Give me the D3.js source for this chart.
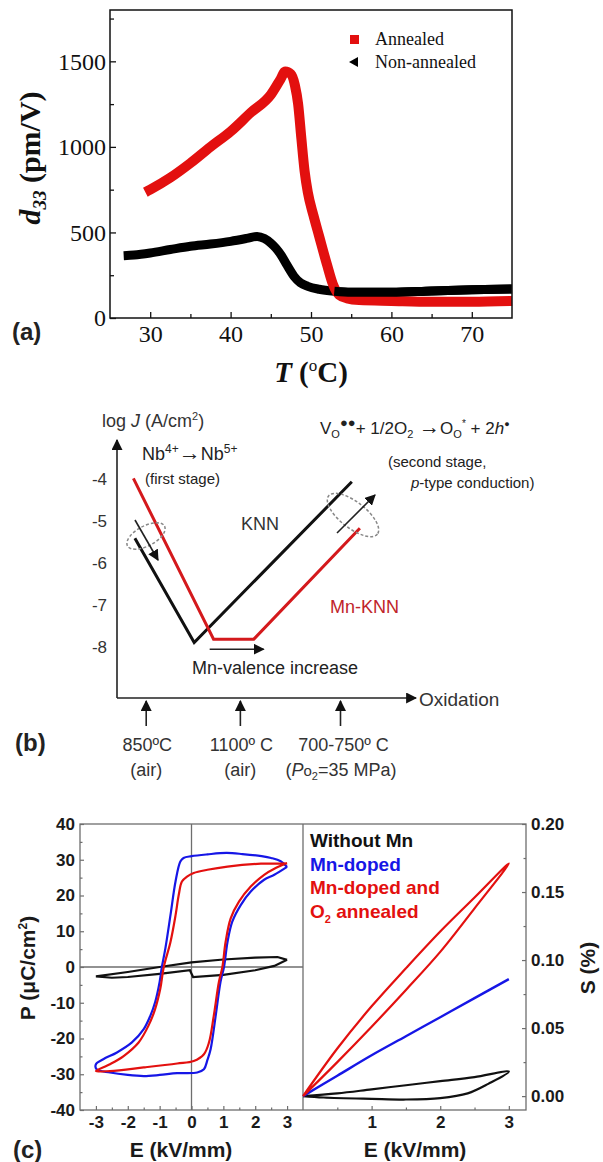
<!DOCTYPE html>
<html>
<head>
<meta charset="utf-8">
<script src="https://cdn.jsdelivr.net/npm/d3@7"></script>
<style>
  body { margin: 0; background: #fff; }
  svg { display: block; }
</style>
</head>
<body>
<div id="chart"></div>
<script>
// ---------- panel (a): d33 vs T ----------
const tAnnealed = [29.4, 30, 32.5, 35, 37.5, 40, 42.5, 45, 46.2, 46.8, 47.5, 48, 48.4, 48.8, 49.2, 49.6, 50.3, 51, 52, 52.7, 53.5, 54.5, 56, 60, 65, 70, 75];
const d33Annealed = [735, 750, 820, 905, 1000, 1090, 1200, 1305, 1395, 1440, 1425, 1360, 1250, 1050, 860, 735, 600, 480, 310, 200, 135, 115, 105, 100, 95, 95, 100];
const tNonAnnealed = [26.7, 28, 30, 32.5, 35, 37.5, 40, 42, 43.3, 44.2, 45, 45.6, 46.25, 47, 47.9, 48.7, 49.6, 51, 52.9, 55, 60, 65, 70, 75];
const d33NonAnnealed = [364, 368, 380, 400, 419, 432, 448, 465, 477, 465, 438, 410, 370, 310, 243, 205, 185, 168, 156, 150, 150, 158, 165, 170];
const aTicksX = [30, 40, 50, 60, 70];
const aMinorX = [35, 45, 55, 65];
const aTicksY = [0, 500, 1000, 1500];
const aMinorY = [250, 750, 1250, 1750];

// ---------- panel (b): schematic log J vs oxidation ----------
const knnOx = [6.0, 25.9, 78.8];
const knnLogJ = [-5.41, -7.90, -4.06];
const mnKnnOx = [5.5, 32.4, 45.9, 81.5];
const mnKnnLogJ = [-3.98, -7.82, -7.82, -5.17];
const bTicksY = [-4, -5, -6, -7, -8];
const stageOx = [9.8, 41.4, 75];
const stageTemp = ['850ºC', '1100º C', '700-750º C'];

// ---------- panel (c): P-E and S-E loops ----------
const peBlue = [[3,28],[2.8,29.6],[2.5,30.5],[2.2,31],[1.6,31.6],[1.1,31.9],[0.5,31.5],[0,31],[-0.25,30.5],[-0.35,29.5],[-0.5,24],[-0.66,14.5],[-0.82,5.2],[-0.93,0],[-1.0,-4.2],[-1.14,-9.8],[-1.29,-13.6],[-1.5,-17.4],[-1.87,-21.1],[-2.34,-23.9],[-2.77,-25.8],[-3,-27.2],
  [-2.98,-28.6],[-2.56,-29.5],[-2,-30.2],[-1.5,-30.5],[-1,-30.2],[-0.45,-29.7],[0.18,-29.5],[0.39,-28.6],[0.5,-26],[0.6,-23],[0.76,-13.6],[0.91,-4.2],[1.02,0],[1.13,7],[1.28,12.7],[1.55,17.4],[1.86,21.1],[2.28,24.4],[2.6,25.8],[3,28]];
const peRed = [[3,29],[2.5,28.9],[2.18,28.9],[1.13,28.1],[0.5,27.2],[0.07,26.3],[-0.14,25.3],[-0.3,23.9],[-0.4,20.2],[-0.5,14.5],[-0.66,7],[-0.87,0],[-0.98,-6.1],[-1.14,-11.7],[-1.35,-16.4],[-1.66,-21.1],[-2.13,-24.9],[-2.56,-27.2],[-3,-29.1],
  [-2.56,-29.1],[-1.5,-28.1],[-0.45,-27],[0.07,-26.3],[0.39,-24.4],[0.55,-21.1],[0.7,-13.6],[0.86,-4.2],[0.97,0],[1.07,7],[1.23,13.6],[1.49,18.3],[1.86,22.5],[2.28,25.8],[2.6,27.5],[3,29]];
const peBlack = [[3,2],[2.7,2.8],[2,2.6],[1,2.1],[0,1.3],[-1,0],[-2,-1.4],[-3,-2.6],
  [-2.5,-3],[-2,-2.8],[-1,-1.9],[-0.05,-0.9],[0.05,-2.8],[1,-2.2],[2,-0.9],[2.6,0.3],[3,2]];
const seRed = [[0,0],[0.5,0.025],[1,0.051],[1.5,0.078],[2,0.106],[2.5,0.138],[3,0.171],
  [2.5,0.146],[2,0.121],[1.5,0.094],[1,0.066],[0.5,0.035],[0,0]];
const seBlue = [[0,0],[0.5,0.015],[1,0.030],[1.5,0.044],[2,0.058],[2.5,0.072],[3,0.086]];
const seBlack = [[0,0],[0.3,-0.001],[1,-0.002],[1.5,-0.0025],[2,-0.0015],[2.4,0.002],[2.7,0.009],[3,0.018],
  [2.5,0.014],[2,0.011],[1.5,0.008],[1,0.005],[0.5,0.002],[0,0]];
const cTicksP = [-40, -30, -20, -10, 0, 10, 20, 30, 40];
const cTicksE = [-3, -2, -1, 0, 1, 2, 3];
const cTicksE2 = [1, 2, 3];
const cTicksS = [0, 0.05, 0.10, 0.15, 0.20];
const legendC = ['Without Mn', 'Mn-doped', 'Mn-doped and'];

const width = 603;
const height = 1162;
const serif = '"Liberation Serif", "Times New Roman", serif';
const sans = '"Liberation Sans", Arial, sans-serif';
const RED = '#e3100f';
const BLUE = '#1616e6';
const plain = (d) => String(d);

const svg = d3.select('#chart')
  .append('svg')
  .attr('width', width)
  .attr('height', height)
  .attr('viewBox', `0 0 ${width} ${height}`);

svg.append('rect').attr('width', width).attr('height', height).attr('fill', '#fff');

// arrow marker
const defs = svg.append('defs');
defs.append('marker')
  .attr('id', 'arr')
  .attr('viewBox', '0 0 10 10')
  .attr('refX', 9).attr('refY', 5)
  .attr('markerWidth', 11).attr('markerHeight', 11)
  .attr('markerUnits', 'userSpaceOnUse')
  .attr('orient', 'auto')
  .append('path').attr('d', 'M0,0 L10,5 L0,10 Z').attr('fill', '#111');

// ================= PANEL (a) =================
function drawPanelA() {
  const box = { left: 110, right: 512, top: 10, bottom: 318 };
  const x = d3.scaleLinear().domain([25, 75]).range([box.left, box.right]);
  const y = d3.scaleLinear().domain([0, 1800]).range([box.bottom, box.top]);
  const g = svg.append('g').attr('class', 'panel-a');

  const line = d3.line().x((d) => x(d[0])).y((d) => y(d[1])).curve(d3.curveMonotoneX);
  const red = tAnnealed.map((t, i) => [t, d33Annealed[i]]);
  const black = tNonAnnealed.map((t, i) => [t, d33NonAnnealed[i]]);

  g.append('path').attr('d', line(black))
    .attr('fill', 'none').attr('stroke', '#000').attr('stroke-width', 9)
    .attr('stroke-linejoin', 'round');
  g.append('path').attr('d', line(red))
    .attr('fill', 'none').attr('stroke', RED).attr('stroke-width', 10)
    .attr('stroke-linejoin', 'round');
  // black sits on top of red on the tail
  g.append('path').attr('d', line(black.filter((d) => d[0] >= 52)))
    .attr('fill', 'none').attr('stroke', '#000').attr('stroke-width', 9);

  // frame
  g.append('rect')
    .attr('x', box.left).attr('y', box.top)
    .attr('width', box.right - box.left).attr('height', box.bottom - box.top)
    .attr('fill', 'none').attr('stroke', '#111').attr('stroke-width', 1.5);

  g.append('g').attr('transform', `translate(0,${box.bottom})`)
    .call(d3.axisBottom(x).tickValues(aTicksX).tickSize(-6).tickPadding(7).tickFormat(plain));
  g.append('g').attr('transform', `translate(0,${box.bottom})`)
    .call(d3.axisBottom(x).tickValues(aMinorX).tickSize(-4).tickFormat(''));
  g.append('g').attr('transform', `translate(${box.left},0)`)
    .call(d3.axisLeft(y).tickValues(aTicksY).tickSize(-6).tickPadding(4).tickFormat(plain));
  g.append('g').attr('transform', `translate(${box.left},0)`)
    .call(d3.axisLeft(y).tickValues(aMinorY).tickSize(-4).tickFormat(''));
  g.selectAll('.domain').remove();
  g.selectAll('.tick line').attr('stroke', '#111').attr('stroke-width', 1.3);
  g.selectAll('.tick text').attr('font-family', serif).attr('font-size', 24).attr('fill', '#111');

  // legend
  g.append('rect').attr('x', 350).attr('y', 35).attr('width', 9).attr('height', 9).attr('fill', RED);
  g.append('text').attr('x', 375).attr('y', 45).text('Annealed')
    .attr('font-family', serif).attr('font-size', 18).attr('fill', '#111');
  g.append('path').attr('d', 'M349,62 L358,57 L358,67 Z').attr('fill', '#000');
  g.append('text').attr('x', 375).attr('y', 68).text('Non-annealed')
    .attr('font-family', serif).attr('font-size', 18).attr('fill', '#111');

  // axis titles
  const yt = g.append('text')
    .attr('transform', 'translate(40,158) rotate(-90)')
    .attr('text-anchor', 'middle')
    .attr('font-family', serif).attr('font-size', 30).attr('font-weight', 'bold').attr('fill', '#111');
  yt.append('tspan').attr('font-style', 'italic').text('d');
  yt.append('tspan').attr('font-style', 'italic').attr('font-size', 19).attr('dy', 6).text('33');
  yt.append('tspan').attr('dy', -6).text(' (pm/V)');

  const xt = g.append('text')
    .attr('x', x(50)).attr('y', 382)
    .attr('text-anchor', 'middle')
    .attr('font-family', serif).attr('font-size', 29).attr('font-weight', 'bold').attr('fill', '#111');
  xt.append('tspan').attr('font-style', 'italic').text('T');
  xt.append('tspan').text(' (');
  xt.append('tspan').attr('font-size', 17).attr('dy', -11).attr('font-weight', 'normal').text('o');
  xt.append('tspan').attr('dy', 11).text('C)');

  g.append('text').attr('x', 12).attr('y', 340).text('(a)')
    .attr('font-family', sans).attr('font-size', 24).attr('font-weight', 'bold').attr('fill', '#222');
}

// ================= PANEL (b) =================
function drawPanelB() {
  const g = svg.append('g').attr('class', 'panel-b');
  const x = d3.scaleLinear().domain([0, 100]).range([117, 415]);
  const y = d3.scaleLinear().domain([-9.25, -3]).range([699, 437.4]);
  const ink = '#222';
  const line = d3.line().x((d) => x(d[0])).y((d) => y(d[1]));

  // axes with arrows
  g.append('line').attr('x1', x(0)).attr('y1', 698).attr('x2', x(0)).attr('y2', 440)
    .attr('stroke', ink).attr('stroke-width', 1.6).attr('marker-end', 'url(#arr)');
  g.append('line').attr('x1', x(0)).attr('y1', 698).attr('x2', 416).attr('y2', 698)
    .attr('stroke', ink).attr('stroke-width', 1.6).attr('marker-end', 'url(#arr)');

  g.selectAll('.ytl').data(bTicksY).join('text')
    .attr('x', 107).attr('y', (d) => y(d) + 6)
    .attr('text-anchor', 'end')
    .attr('font-family', sans).attr('font-size', 17).attr('fill', '#333')
    .text((d) => String(d));

  // curves
  g.append('path').attr('d', line(knnOx.map((v, i) => [v, knnLogJ[i]])))
    .attr('fill', 'none').attr('stroke', '#111').attr('stroke-width', 3);
  g.append('path').attr('d', line(mnKnnOx.map((v, i) => [v, mnKnnLogJ[i]])))
    .attr('fill', 'none').attr('stroke', '#d4191c').attr('stroke-width', 3);

  // dashed ellipses with arrows
  g.append('ellipse').attr('cx', 146).attr('cy', 536).attr('rx', 21).attr('ry', 10)
    .attr('transform', 'rotate(-28 146 536)')
    .attr('fill', 'none').attr('stroke', '#888').attr('stroke-width', 1.5).attr('stroke-dasharray', '3,2');
  g.append('line').attr('x1', 135).attr('y1', 520).attr('x2', 158).attr('y2', 560)
    .attr('stroke', '#222').attr('stroke-width', 1.6).attr('marker-end', 'url(#arr)');
  g.append('ellipse').attr('cx', 353).attr('cy', 515).attr('rx', 31).attr('ry', 13)
    .attr('transform', 'rotate(38 353 515)')
    .attr('fill', 'none').attr('stroke', '#888').attr('stroke-width', 1.5).attr('stroke-dasharray', '3,2');
  g.append('line').attr('x1', 337).attr('y1', 533).attr('x2', 375).attr('y2', 495)
    .attr('stroke', '#222').attr('stroke-width', 1.6).attr('marker-end', 'url(#arr)');

  // Mn valence arrow
  g.append('line').attr('x1', x(31.1)).attr('y1', y(-8.06)).attr('x2', x(49.2)).attr('y2', y(-8.06))
    .attr('stroke', '#222').attr('stroke-width', 1.6).attr('marker-end', 'url(#arr)');
  g.append('text').attr('x', 275).attr('y', 674).attr('text-anchor', 'middle')
    .attr('font-family', sans).attr('font-size', 18).attr('fill', ink).text('Mn-valence increase');

  // stage arrows under the axis
  stageOx.forEach((v) => {
    g.append('line').attr('x1', x(v)).attr('y1', 726).attr('x2', x(v)).attr('y2', 701)
      .attr('stroke', '#222').attr('stroke-width', 1.6).attr('marker-end', 'url(#arr)');
  });
  g.selectAll('.stage').data(stageTemp).join('text')
    .attr('x', (d, i) => x(stageOx[i]) + (i === 2 ? 3 : 1)).attr('y', 751)
    .attr('text-anchor', 'middle')
    .attr('font-family', sans).attr('font-size', 18).attr('fill', '#333')
    .text((d) => d);
  g.append('text').attr('x', x(stageOx[0])).attr('y', 776).attr('text-anchor', 'middle')
    .attr('font-family', sans).attr('font-size', 18).attr('fill', '#333').text('(air)');
  g.append('text').attr('x', x(stageOx[1])).attr('y', 776).attr('text-anchor', 'middle')
    .attr('font-family', sans).attr('font-size', 18).attr('fill', '#333').text('(air)');
  const po = g.append('text').attr('x', 341).attr('y', 776).attr('text-anchor', 'middle')
    .attr('font-family', sans).attr('font-size', 18).attr('fill', '#333');
  po.append('tspan').text('(');
  po.append('tspan').attr('font-style', 'italic').text('P');
  po.append('tspan').attr('font-size', 15).text('o');
  po.append('tspan').attr('font-size', 11).attr('dy', 4).text('2');
  po.append('tspan').attr('dy', -4).text('=35 MPa)');

  g.append('text').attr('x', 419).attr('y', 706)
    .attr('font-family', sans).attr('font-size', 19).attr('fill', '#333').text('Oxidation');

  // y title
  const yl = g.append('text').attr('x', 102).attr('y', 427)
    .attr('font-family', sans).attr('font-size', 18).attr('fill', '#333');
  yl.append('tspan').text('log ');
  yl.append('tspan').attr('font-style', 'italic').text('J');
  yl.append('tspan').text(' (A/cm');
  yl.append('tspan').attr('font-size', 11).attr('dy', -7).text('2');
  yl.append('tspan').attr('dy', 7).text(')');

  // annotations
  const nb = g.append('text').attr('x', 142).attr('y', 460)
    .attr('font-family', sans).attr('font-size', 18).attr('fill', ink);
  nb.append('tspan').text('Nb');
  nb.append('tspan').attr('font-size', 12).attr('dy', -7).text('4+');
  nb.append('tspan').attr('dy', 7).attr('font-size', 22).attr('font-weight', 'bold').text('→');
  nb.append('tspan').text('Nb');
  nb.append('tspan').attr('font-size', 12).attr('dy', -7).text('5+');
  g.append('text').attr('x', 145).attr('y', 484)
    .attr('font-family', sans).attr('font-size', 15).attr('fill', ink).text('(first stage)');

  g.append('text').attr('x', 241).attr('y', 530)
    .attr('font-family', sans).attr('font-size', 18).attr('fill', '#333').text('KNN');
  g.append('text').attr('x', 330).attr('y', 613)
    .attr('font-family', sans).attr('font-size', 18).attr('fill', '#c0242a').text('Mn-KNN');

  const eq = g.append('text').attr('x', 320).attr('y', 434)
    .attr('font-family', sans).attr('font-size', 17).attr('fill', ink);
  eq.append('tspan').text('V');
  eq.append('tspan').attr('font-size', 11).attr('dy', 4).text('O');
  eq.append('tspan').attr('font-size', 13).attr('dy', -11).text('●●');
  eq.append('tspan').attr('dy', 7).text('+ 1/2O');
  eq.append('tspan').attr('font-size', 11).attr('dy', 4).text('2');
  eq.append('tspan').attr('dy', -4).attr('font-size', 21).attr('font-weight', 'bold').text(' →');
  eq.append('tspan').text('O');
  eq.append('tspan').attr('font-size', 11).attr('dy', 4).text('O');
  eq.append('tspan').attr('font-size', 10).attr('dy', -11).text('*');
  eq.append('tspan').attr('dy', 7).text(' + 2');
  eq.append('tspan').attr('font-style', 'italic').text('h');
  eq.append('tspan').attr('font-size', 9).attr('dy', -7).text('●');
  g.append('text').attr('x', 388).attr('y', 467)
    .attr('font-family', sans).attr('font-size', 15).attr('fill', ink).text('(second stage,');
  const pt = g.append('text').attr('x', 411).attr('y', 488)
    .attr('font-family', sans).attr('font-size', 15).attr('fill', ink);
  pt.append('tspan').attr('font-style', 'italic').text('p');
  pt.append('tspan').text('-type conduction)');

  g.append('text').attr('x', 15).attr('y', 751).text('(b)')
    .attr('font-family', sans).attr('font-size', 24).attr('font-weight', 'bold').attr('fill', '#222');
}

// ================= PANEL (c) =================
function drawPanelC() {
  const g = svg.append('g').attr('class', 'panel-c');
  const top = 824, bottom = 1110, left = 80, mid = 303, right = 526;
  const xE = d3.scaleLinear().domain([-3.5, 3.5]).range([left, mid]);
  const yP = d3.scaleLinear().domain([-40, 40]).range([bottom, top]);
  const xE2 = d3.scaleLinear().domain([0, 3.25]).range([mid, right]);
  const yS = d3.scaleLinear().domain([-0.0102, 0.2]).range([bottom, top]);
  const axisGray = '#6e6e6e';

  // zero lines
  g.append('line').attr('x1', xE(0)).attr('x2', xE(0)).attr('y1', top).attr('y2', bottom)
    .attr('stroke', axisGray).attr('stroke-width', 1.3);
  g.append('line').attr('x1', left).attr('x2', mid).attr('y1', yP(0)).attr('y2', yP(0))
    .attr('stroke', axisGray).attr('stroke-width', 1.3);

  // frame
  g.append('rect').attr('x', left).attr('y', top).attr('width', right - left).attr('height', bottom - top)
    .attr('fill', 'none').attr('stroke', axisGray).attr('stroke-width', 1.3);
  g.append('line').attr('x1', mid).attr('x2', mid).attr('y1', top).attr('y2', bottom)
    .attr('stroke', axisGray).attr('stroke-width', 1.3);

  const minor = (ticks) => d3.pairs(ticks).map((p) => (p[0] + p[1]) / 2);

  g.append('g').attr('transform', `translate(${left},0)`)
    .call(d3.axisLeft(yP).tickValues(cTicksP).tickSize(-4).tickPadding(5).tickFormat(plain));
  g.append('g').attr('transform', `translate(${left},0)`)
    .call(d3.axisLeft(yP).tickValues(minor(cTicksP)).tickSize(-2.5).tickFormat(''));
  g.append('g').attr('transform', `translate(0,${bottom})`)
    .call(d3.axisBottom(xE).tickValues(cTicksE).tickSize(-4).tickPadding(6).tickFormat(plain));
  g.append('g').attr('transform', `translate(0,${bottom})`)
    .call(d3.axisBottom(xE).tickValues(minor(cTicksE)).tickSize(-2.5).tickFormat(''));
  g.append('g').attr('transform', `translate(0,${bottom})`)
    .call(d3.axisBottom(xE2).tickValues(cTicksE2).tickSize(-4).tickPadding(6).tickFormat(plain));
  g.append('g').attr('transform', `translate(0,${bottom})`)
    .call(d3.axisBottom(xE2).tickValues([0.5, 1.5, 2.5]).tickSize(-2.5).tickFormat(''));
  g.append('g').attr('transform', `translate(${right},0)`)
    .call(d3.axisRight(yS).tickValues(cTicksS).tickSize(-4).tickPadding(5).tickFormat(d3.format('.2f')));
  g.append('g').attr('transform', `translate(${right},0)`)
    .call(d3.axisRight(yS).tickValues(minor(cTicksS)).tickSize(-2.5).tickFormat(''));
  g.selectAll('.domain').remove();
  g.selectAll('.tick line').attr('stroke', axisGray).attr('stroke-width', 1.2);
  g.selectAll('.tick text').attr('font-family', sans).attr('font-size', 17)
    .attr('font-weight', 'bold').attr('fill', '#1a1a1a');

  // curves
  const loop = (sx, sy) => d3.line().x((d) => sx(d[0])).y((d) => sy(d[1])).curve(d3.curveCatmullRom.alpha(0.5));
  const lin = (sx, sy) => d3.line().x((d) => sx(d[0])).y((d) => sy(d[1]));
  const pe = loop(xE, yP);
  const se = loop(xE2, yS);

  g.append('path').attr('d', lin(xE, yP)(peBlack))
    .attr('fill', 'none').attr('stroke', '#111').attr('stroke-width', 2.2);
  g.append('path').attr('d', pe(peBlue))
    .attr('fill', 'none').attr('stroke', BLUE).attr('stroke-width', 2.2);
  g.append('path').attr('d', pe(peRed))
    .attr('fill', 'none').attr('stroke', RED).attr('stroke-width', 2.2);

  g.append('path').attr('d', se(seBlack))
    .attr('fill', 'none').attr('stroke', '#111').attr('stroke-width', 2.2);
  g.append('path').attr('d', se(seBlue))
    .attr('fill', 'none').attr('stroke', BLUE).attr('stroke-width', 2.4);
  g.append('path').attr('d', se(seRed))
    .attr('fill', 'none').attr('stroke', RED).attr('stroke-width', 2.2);

  // legend
  const legColors = ['#111', BLUE, RED];
  g.selectAll('.leg').data(legendC).join('text')
    .attr('x', 310).attr('y', (d, i) => 847 + i * 23.5)
    .attr('font-family', sans).attr('font-size', 19).attr('font-weight', 'bold')
    .attr('fill', (d, i) => legColors[i])
    .text((d) => d);
  const o2 = g.append('text').attr('x', 310).attr('y', 918)
    .attr('font-family', sans).attr('font-size', 19).attr('font-weight', 'bold').attr('fill', RED);
  o2.append('tspan').text('O');
  o2.append('tspan').attr('font-size', 11).attr('dy', 5).text('2');
  o2.append('tspan').attr('dy', -5).text(' annealed');

  // axis titles
  const pt = g.append('text').attr('transform', 'translate(35,968) rotate(-90)')
    .attr('text-anchor', 'middle')
    .attr('font-family', sans).attr('font-size', 21).attr('font-weight', 'bold').attr('fill', '#1a1a1a');
  pt.append('tspan').text('P (μC/cm');
  pt.append('tspan').attr('font-size', 12).attr('dy', -8).text('2');
  pt.append('tspan').attr('dy', 8).text(')');
  g.append('text').attr('transform', 'translate(595,968) rotate(-90)')
    .attr('text-anchor', 'middle')
    .attr('font-family', sans).attr('font-size', 21).attr('font-weight', 'bold').attr('fill', '#1a1a1a')
    .text('S (%)');
  g.append('text').attr('x', 181).attr('y', 1157).attr('text-anchor', 'middle')
    .attr('font-family', sans).attr('font-size', 21).attr('font-weight', 'bold').attr('fill', '#1a1a1a')
    .text('E (kV/mm)');
  g.append('text').attr('x', 415).attr('y', 1157).attr('text-anchor', 'middle')
    .attr('font-family', sans).attr('font-size', 21).attr('font-weight', 'bold').attr('fill', '#1a1a1a')
    .text('E (kV/mm)');

  g.append('text').attr('x', 13).attr('y', 1158).text('(c)')
    .attr('font-family', sans).attr('font-size', 24).attr('font-weight', 'bold').attr('fill', '#222');
}

drawPanelA();
drawPanelB();
drawPanelC();
</script>
</body>
</html>
